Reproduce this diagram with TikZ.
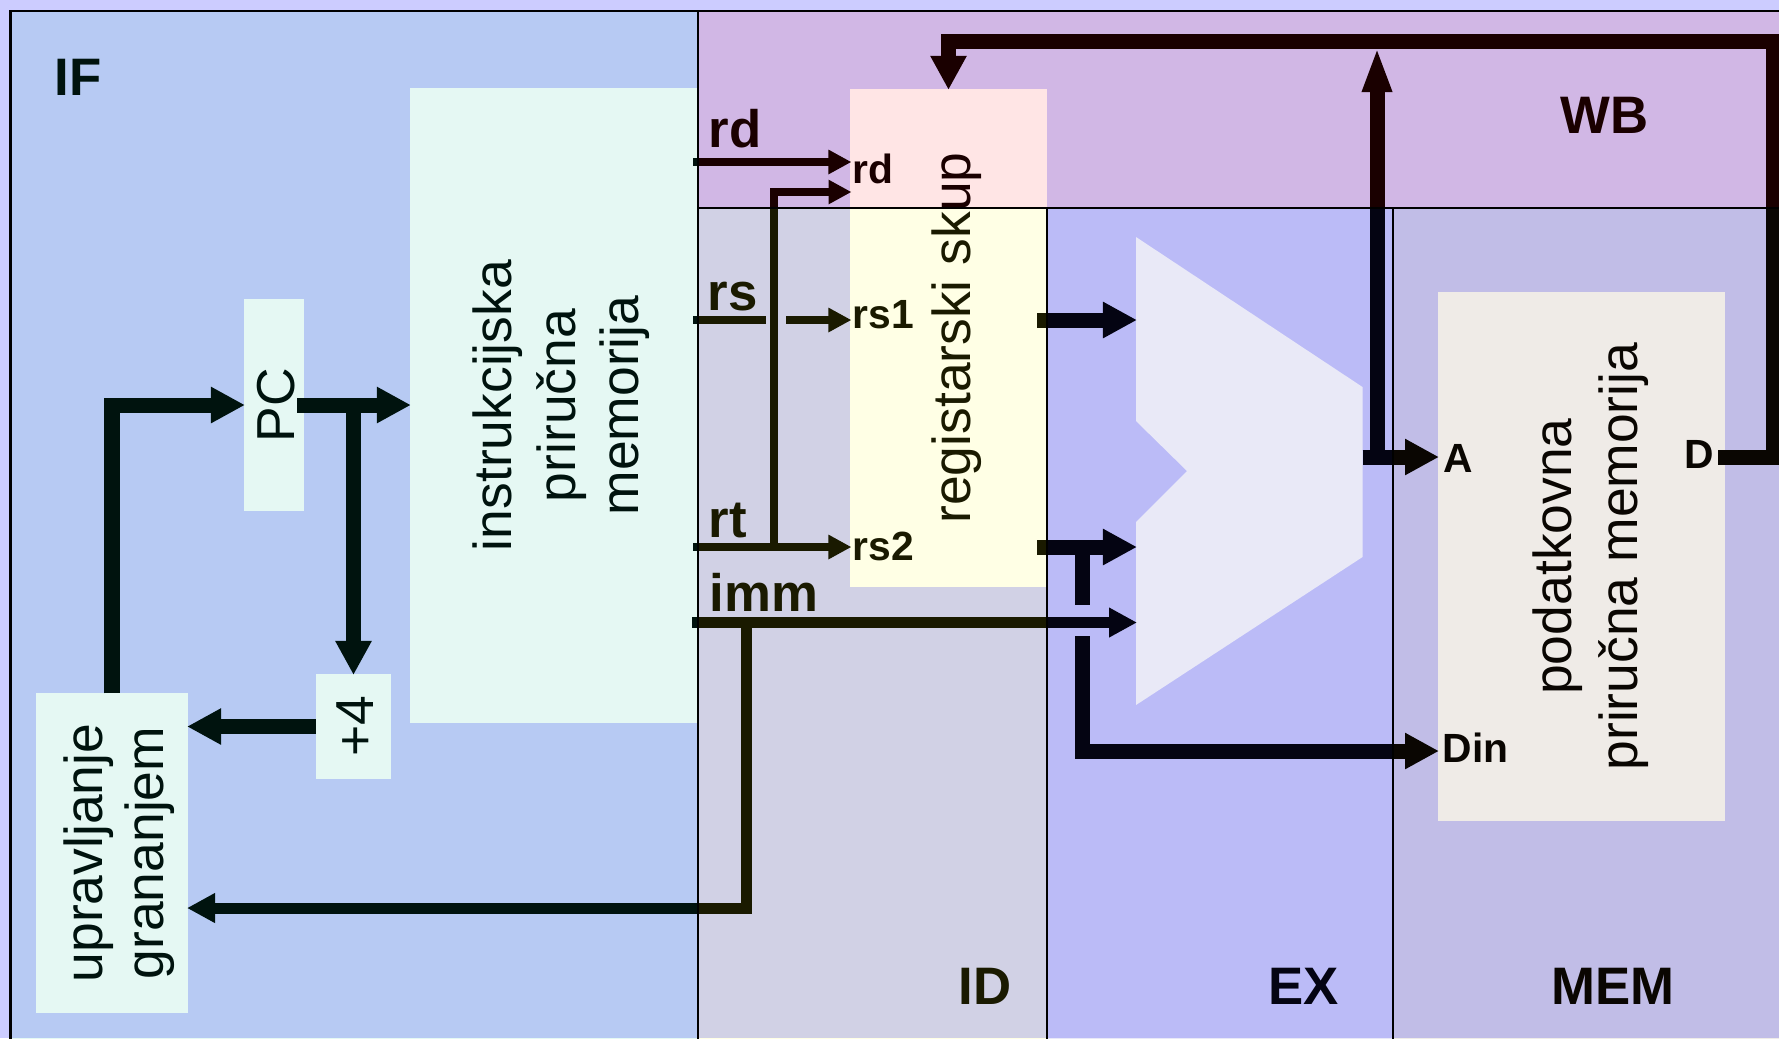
\documentclass[tikz,border=0pt]{standalone}
\usepackage{fontspec}
\setmainfont{Liberation Sans}
\usetikzlibrary{arrows.meta}
\definecolor{basecol}{HTML}{CCCCFF}
\definecolor{ifcol}{rgb}{0,.76,.57}
\definecolor{idcol}{rgb}{1,1,0}
\definecolor{excol}{rgb}{.17,.17,.73}
\definecolor{memcol}{rgb}{.4,.25,.1}
\definecolor{wbcol}{rgb}{1,0,0}
\newcommand{\rot}[2][.1cm]{\rotatebox{90}{\raisebox{-#1}[\height][\depth]{\begin{tabular}{@{}c@{}}#2\end{tabular}}}}
\begin{document}
\begin{tikzpicture}[x=0.01cm,y=-0.01cm,
  unit/.style 2 args={fill=white,inner sep=0,outer sep=0,minimum width=#1,minimum height=#2,font=\fontsize{15.2}{18.8}\selectfont},
  stage/.style 2 args={fill opacity=.1,draw=black,line width=.02cm,inner sep=0,outer sep=0,anchor=north west,minimum width=#1,minimum height=#2},
  biglab/.style={anchor=base west,inner sep=0,font=\fontsize{15}{17}\selectfont\bfseries},
  smalllab/.style={anchor=base west,inner sep=0,font=\fontsize{11.6}{13}\selectfont\bfseries},
  thick bus/.style={line width=.15cm,shorten >=-.01cm,-{Triangle[length=.34cm,width=.34cm]}},
  mid bus/.style={line width=.11cm,shorten >=-.01cm,-{Triangle[length=.28cm,width=.28cm]}},
  thin bus/.style={line width=.075cm,shorten >=-.015cm,-{Triangle[length=.23cm,width=.23cm]}}]
\clip (0,0) rectangle (1779,1038);
\fill[basecol] (0,0) rectangle (1779,1038);

% blocks
\node[unit={2.87cm}{6.35cm},font=\fontsize{15.2}{18.1}\selectfont] (imem) at (553.5,405.5) {\rot[.09cm]{instrukcijska\\priručna\\memorija}};
\node[unit={.6cm}{2.12cm}] (pc) at (274,405) {\rotatebox{90}{\raisebox{-.025cm}[\height][\depth]{PC}}};
\node[unit={.75cm}{1.05cm}] (plusfour) at (353.5,726.5) {\rot[.07cm]{+4}};
\node[unit={1.52cm}{3.19cm},font=\fontsize{15.2}{17.4}\selectfont] (ctrl) at (112,853) {\rot[.09cm]{upravljanje\\grananjem}};
\node[unit={1.97cm}{4.98cm}] (reg) at (948.5,338) {\rot[.09cm]{registarski skup}};
\node[unit={2.87cm}{5.29cm}] (dmem) at (1581.5,556.5) {\rot[.1cm]{podatkovna\\priručna memorija}};
\fill[white] (1136,237) -- (1362.5,387) -- (1362.5,557) -- (1136,705) -- (1136,522) -- (1187,471) -- (1136,421) -- cycle;

% ports
\coordinate (rdL) at (693,162);
\coordinate (rsL) at (693,320);
\coordinate (rtL) at (693,547);
\coordinate (immL) at (692,622.5);
\coordinate (rsgapA) at (766,320);
\coordinate (rsgapB) at (786,320);
\coordinate (rtJ) at (774,547);
\coordinate (rdB) at (850,192);
\coordinate (immJ) at (746,622.5);
\coordinate (ctrlI) at (188,908);
\coordinate (rsOut) at (1037,320);
\coordinate (rtOut) at (1037,547);
\coordinate (aluA) at (1136,320);
\coordinate (aluB) at (1136,547);
\coordinate (aluI) at (1136,622.5);
\coordinate (aluO) at (1362.5,457);
\coordinate (fwdJ) at (1082,547);
\coordinate (fwdA) at (1082,605);
\coordinate (fwdB) at (1082,636);
\coordinate (dmemA) at (1438,457);
\coordinate (dmemI) at (1438,751);
\coordinate (dmemD) at (1718,457);
\coordinate (wbJ) at (1377,457);
\coordinate (wbTip) at (1377,49);
\coordinate (wbR) at (1773,41);

% IF wires
\draw[thick bus] (ctrl.north) |- (pc.west);
\draw[thick bus] ([xshift=-.07cm]pc.east) -- (pc.east -| imem.west);
\draw[thick bus] (plusfour.north |- pc.east) -- (plusfour.north);
\draw[thick bus] (plusfour.west) -- (plusfour.west -| ctrl.east);

% ID wires
\draw[thin bus] (rdL) -- (rdL -| reg.west);
\draw[thin bus] (rtL) -- (rtL -| reg.west);
\draw[thin bus] (rtJ) |- (rdB);
\draw[line width=.075cm] (rsL) -- (rsgapA);
\draw[thin bus] (rsgapB) -- (rsgapB -| reg.west);
\draw[mid bus] (immL) -- (aluI);
\draw[mid bus] (immJ) |- (ctrlI);

% EX wires
\draw[thick bus] (rsOut) -- (aluA);
\draw[thick bus] (rtOut) -- (aluB);
\draw[line width=.15cm] (fwdJ) -- (fwdA);
\draw[thick bus] (fwdB) |- (dmemI);
\draw[thick bus] (aluO) -- (dmemA);
\draw[line width=.15cm,shorten >=-.02cm,-{Triangle[length=.45cm,width=.27cm]}] (wbJ) -- (wbTip);
\draw[thick bus] (dmemD) -| (wbR) -| (reg.north);

% labels
\node[biglab] (lblif) at (54,95.5) {IF};
\node[biglab] (lblid) at (958,1004) {ID};
\node[biglab] (lblex) at (1268,1004) {EX};
\node[biglab] (lblmem) at (1551,1004) {MEM};
\node[biglab] (lblwb) at (1560,133) {WB};
\node[biglab] (lblrd) at (708,147.5) {rd};
\node[biglab] (lblrs) at (707,310) {rs};
\node[biglab] (lblrt) at (708,537) {rt};
\node[biglab] (lblimm) at (709,611) {imm};
\node[smalllab] (portrd) at (852,183.5) {rd};
\node[smalllab] (portrsa) at (852,328.5) {rs1};
\node[smalllab] (portrsb) at (852,560.5) {rs2};
\node[smalllab] (porta) at (1443,472) {A};
\node[smalllab] (portd) at (1684,468) {D};
\node[smalllab] (portdin) at (1442,762) {Din};

% pipeline stages
\node[stage={6.87cm}{10.5cm},fill=ifcol] (ifst) at (10.5,10.5) {};
\node[stage={11cm}{1.975cm},fill=wbcol] (wbst) at (697.5,10.5) {};
\node[stage={3.49cm}{8.6cm},fill=idcol] (idst) at (697.5,208) {};
\node[stage={3.46cm}{8.6cm},fill=excol] (exst) at (1046.5,208) {};
\node[stage={4cm}{8.6cm},fill=memcol] (memst) at (1392.5,208) {};
\end{tikzpicture}
\end{document}
